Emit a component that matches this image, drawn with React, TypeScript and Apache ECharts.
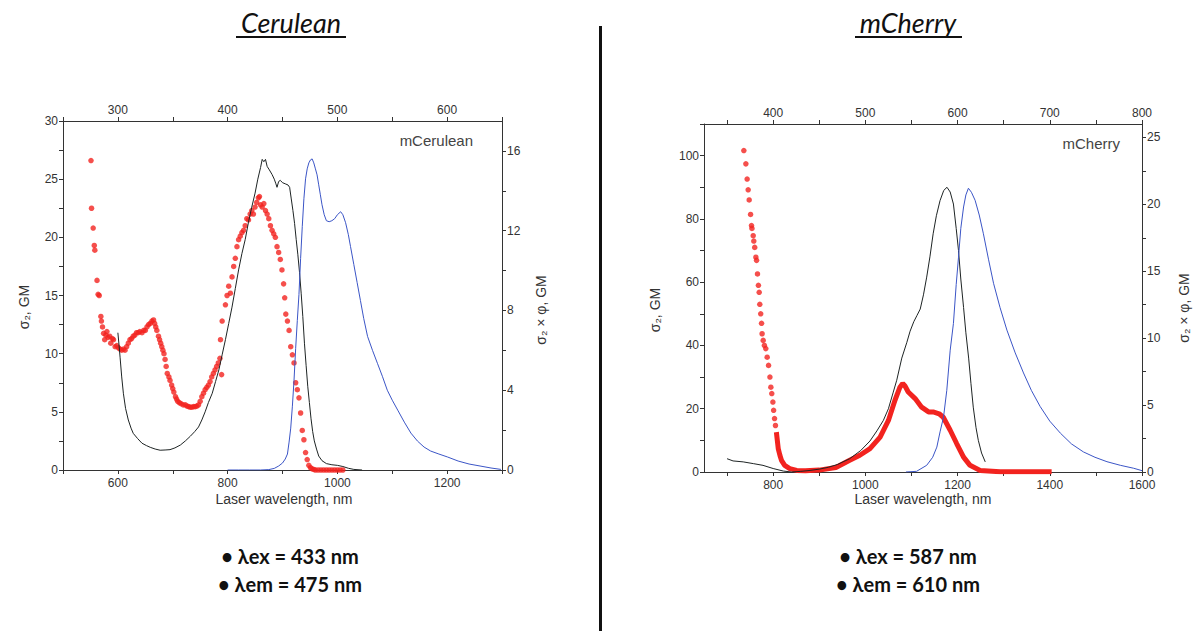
import React, { useEffect, useRef } from 'react';
import * as echarts from 'echarts';

// ---------- DATA ----------
// Cerulean panel (bottom axis: laser wavelength, nm; top axis: wavelength / 2)
const cerBottomTicks = [500, 600, 700, 800, 900, 1000, 1100, 1200, 1300];
const cerBottomLabels = [600, 800, 1000, 1200];
const cerTopTicks = [250, 300, 350, 400, 450, 500, 550, 600, 650];
const cerTopLabels = [300, 400, 500, 600];
const cerLeftTicks = [0, 2.5, 5, 7.5, 10, 12.5, 15, 17.5, 20, 22.5, 25, 27.5, 30];
const cerLeftLabels = [0, 5, 10, 15, 20, 25, 30];
const cerRightTicks = [0, 2, 4, 6, 8, 10, 12, 14, 16];
const cerRightLabels = [0, 4, 8, 12, 16];

// two-photon cross section (red dots), sigma2 GM
const cerRed: [number, number][] = [
  [551, 26.6], [552, 22.5], [555, 20.8], [557, 19.3], [558, 18.9], [562, 16.3], [564, 15.1], [566, 15.0],
  [569, 13.2], [570, 12.8], [572, 12.3], [574, 11.75], [576, 11.2], [578, 11.6], [580, 11.9], [582, 11.4],
  [585, 11.5], [587, 10.9], [590, 11.3], [592, 11.2], [595, 10.6], [598, 10.7], [601, 10.5], [604, 10.4],
  [607, 10.3], [610, 10.4], [613, 10.3], [616, 10.6], [619, 10.9], [622, 11.2], [625, 11.3], [628, 11.5],
  [631, 11.6], [634, 11.8], [637, 11.8], [640, 11.9], [644, 11.8], [647, 12.0], [650, 12.0], [653, 12.3],
  [656, 12.5], [659, 12.6], [662, 12.8], [665, 12.9], [667, 12.6], [669, 12.3], [671, 12.0], [674, 11.5],
  [676, 11.2], [678, 10.9], [680, 10.6], [682, 10.3], [684, 10.0], [686, 9.5], [688, 8.9], [690, 8.3],
  [693, 8.0], [695, 7.7], [698, 7.3], [700, 7.0], [702, 6.7], [705, 6.3], [707, 6.1], [709, 5.9],
  [712, 5.8], [715, 5.7], [719, 5.6], [723, 5.6], [726, 5.5], [729, 5.45], [732, 5.4], [735, 5.4],
  [738, 5.45], [741, 5.45], [744, 5.5], [747, 5.6], [750, 5.9], [753, 6.3], [756, 6.6], [759, 6.9],
  [762, 7.1], [765, 7.3], [768, 7.6], [771, 8.0], [774, 8.3], [777, 8.6], [780, 8.9], [783, 9.2],
  [786, 9.6], [787, 11.2], [789, 8.2], [790, 12.8], [796, 14.2], [799, 15.0], [802, 15.8], [805, 15.2],
  [808, 16.6], [811, 17.5], [814, 18.2], [817, 19.2], [820, 19.8], [823, 20.1], [826, 20.4], [829, 20.6],
  [832, 21.0], [835, 21.6], [838, 21.5], [841, 22.0], [844, 22.3], [847, 22.0], [850, 22.6], [853, 23.0],
  [856, 23.4], [858, 23.5], [860, 22.8], [863, 22.6], [866, 22.9], [869, 22.3], [872, 22.0], [875, 21.6],
  [878, 21.0], [881, 20.6], [884, 20.3], [887, 20.0], [890, 19.2], [893, 18.7], [896, 18.1], [899, 17.2],
  [902, 16.0], [904, 14.8], [906, 13.4], [909, 12.8], [912, 12.0], [915, 10.6], [918, 9.9], [921, 9.2],
  [924, 7.5], [927, 6.9], [930, 6.2], [933, 4.9], [936, 3.4], [939, 2.6], [942, 1.5], [945, 0.9],
  [948, 0.4], [951, 0.2], [954, 0.1], [957, 0.05], [960, 0], [965, 0], [970, 0], [975, 0], [980, 0],
  [985, 0], [990, 0], [995, 0], [1000, 0], [1005, 0], [1010, 0],
];

// one-photon absorption (black line), plotted on the sigma2 scale
const cerBlack: [number, number][] = [
  [600, 11.8], [602, 10.8], [604, 9.7], [607, 8.0], [610, 6.6], [614, 5.3], [619, 4.3], [624, 3.6],
  [628, 3.15], [636, 2.7], [644, 2.3], [652, 2.1], [659, 1.95], [668, 1.8], [677, 1.7], [686, 1.72],
  [695, 1.75], [704, 1.9], [714, 2.15], [723, 2.5], [732, 2.9], [740, 3.3], [747, 3.7], [753, 4.3],
  [759, 5.0], [765, 5.8], [772, 6.6], [778, 7.6], [784, 8.6], [790, 9.9], [796, 11.2], [802, 12.6],
  [808, 14.0], [814, 15.6], [820, 17.2], [826, 18.6], [832, 19.8], [838, 21.3], [844, 22.6], [850, 23.8],
  [855, 25.0], [860, 26.0], [863, 26.7], [866, 26.5], [869, 26.7], [872, 26.1], [876, 25.8], [881, 25.4],
  [885, 25.0], [888, 24.6], [890, 24.3], [893, 24.8], [896, 24.9], [900, 24.7], [905, 24.6], [910, 24.5],
  [913, 24.3], [916, 23.3], [919, 22.3], [922, 21.2], [925, 19.8], [928, 18.5], [931, 17.0], [934, 15.2],
  [937, 13.2], [940, 10.9], [943, 9.0], [946, 7.2], [949, 5.8], [952, 4.4], [955, 3.3], [958, 2.5],
  [962, 1.8], [966, 1.2], [972, 0.8], [980, 0.55], [990, 0.45], [1000, 0.4], [1010, 0.3], [1020, 0.15],
  [1030, 0.05], [1045, 0],
];

// emission (blue line), right axis
const cerBlue: [number, number][] = [
  [800, 0], [820, 0], [840, 0], [860, 0], [875, 0.02], [885, 0.08], [893, 0.2], [900, 0.35],
  [905, 0.55], [909, 0.8], [912, 1.4], [915, 2.1], [918, 3.2], [921, 4.5], [924, 6.1], [927, 7.5],
  [930, 8.8], [933, 10.6], [936, 12.2], [939, 13.6], [942, 14.6], [945, 15.1], [948, 15.4], [951, 15.55],
  [954, 15.6], [957, 15.4], [960, 15.1], [963, 14.8], [966, 14.3], [969, 13.8], [972, 13.3], [976, 12.8],
  [980, 12.5], [985, 12.45], [990, 12.5], [995, 12.6], [1000, 12.8], [1006, 12.95], [1010, 12.8], [1015, 12.4],
  [1020, 11.8], [1024, 11.2], [1030, 10.3], [1036, 9.4], [1042, 8.5], [1048, 7.6], [1055, 6.7], [1064, 6.0],
  [1073, 5.35], [1082, 4.7], [1091, 4.0], [1100, 3.5], [1110, 3.0], [1122, 2.4], [1134, 1.85], [1146, 1.45],
  [1158, 1.15], [1170, 0.95], [1185, 0.8], [1201, 0.65], [1220, 0.45], [1240, 0.3], [1260, 0.2], [1280, 0.1],
  [1298, 0.03],
];

// mCherry panel
const cheBottomTicks = [700, 800, 900, 1000, 1100, 1200, 1300, 1400, 1500, 1600];
const cheBottomLabels = [800, 1000, 1200, 1400, 1600];
const cheTopTicks = [350, 400, 450, 500, 550, 600, 650, 700, 750, 800];
const cheTopLabels = [400, 500, 600, 700, 800];
const cheLeftTicks = [0, 10, 20, 30, 40, 50, 60, 70, 80, 90, 100, 110];
const cheLeftLabels = [0, 20, 40, 60, 80, 100];
const cheRightTicks = [0, 2.5, 5, 7.5, 10, 12.5, 15, 17.5, 20, 22.5, 25];
const cheRightLabels = [0, 5, 10, 15, 20, 25];

const cheRedDots: [number, number][] = [
  [736.4, 101.6], [740.8, 97.4], [743.6, 92.6], [745.8, 89.2], [748, 86], [751, 81.4], [753, 77.9],
  [754, 77], [756.7, 74.7], [758, 73], [760, 71], [762.5, 67.9], [764, 66.9], [766, 62.6], [768, 59],
  [769.7, 56.8], [771, 53], [773, 50], [774.8, 47], [776, 43.7], [778.4, 41.6], [781, 40], [784, 39],
  [787, 36.3], [790, 33.7], [793, 30], [795, 26.8], [797, 24.8], [799.4, 22.1], [801, 19.5], [803, 16.9],
  [805, 14.7],
];
const cheRedBand: [number, number][] = [
  [807, 12.6], [809, 10], [811, 7.4], [814.6, 5.3], [818, 3.7], [825, 2.1], [836, 1.07], [851, 0.5],
  [870, 0.4], [900, 0.6], [936, 1.4], [966, 3.7], [988, 5.3], [1010, 7.4], [1032, 11.05], [1050, 16.3],
  [1064, 22.6], [1075, 26.8], [1081, 28], [1086, 27.2], [1093, 25.3], [1108, 23.2], [1122, 20.5],
  [1137, 19.0], [1147, 19.0], [1160, 18.4], [1169, 17.3], [1184, 13.2], [1198, 9.0], [1213, 4.7],
  [1227, 2.1], [1249, 0.5], [1292, 0.1], [1404, 0.1],
];
const cheBlack: [number, number][] = [
  [700, 4.2], [713, 3.5], [735, 3.2], [757, 2.65], [778, 2.1], [800, 1.1], [822, 0.3], [840, 0], [860, 0.2],
  [880, 0.5], [900, 0.9], [920, 1.5], [940, 2.4], [966, 4.2], [990, 6.8], [1010, 9.8], [1025, 13.0],
  [1039, 16.3], [1050, 20.0], [1060, 25.0], [1068, 29.0], [1079, 36.0], [1090, 41.0], [1097, 44.5],
  [1105, 47.5], [1112, 49.5], [1119, 51.5], [1126, 56], [1133, 61.6], [1140, 68], [1147, 75.3], [1154, 81],
  [1162, 85.8], [1170, 89], [1177, 90], [1184, 88.5], [1191, 84.7], [1197, 77], [1202, 70], [1207, 61],
  [1213, 52], [1218, 44], [1224, 36], [1229, 28], [1234, 20.5], [1240, 14], [1245, 10], [1252, 6.0],
  [1260, 3.2],
];
const cheBlue: [number, number][] = [
  [1088, 0], [1111, 0.05], [1133, 0.5], [1146, 1.1], [1155, 1.86], [1162, 3.0], [1169.5, 4.1], [1176.6, 6.1],
  [1184, 9.1], [1191, 11.1], [1197, 14], [1202, 16.05], [1207, 18.2], [1213, 19.8], [1218, 20.7], [1223.5, 21.2],
  [1230, 20.9], [1238, 20.3], [1247, 19.2], [1256, 17.8], [1267, 15.9], [1278, 14.1], [1292, 12.3], [1307, 10.6],
  [1325, 8.9], [1343, 7.4], [1360, 6.1], [1379, 4.9], [1400, 3.8], [1423, 2.9], [1447, 2.1], [1473, 1.5],
  [1498, 1.1], [1524, 0.77], [1553, 0.5], [1582, 0.28], [1600, 0.1],
];

const titles = ['Cerulean', 'mCherry'];
const proteinLabels = ['mCerulean', 'mCherry'];
const notesLeft = ['• λex = 433 nm', '• λem = 475 nm'];
const notesRight = ['• λex = 587 nm', '• λem = 610 nm'];

// ---------- STYLE ----------
const AX = '#333';
const FONT = "'Liberation Sans', Arial, sans-serif";
const RED = '#f2231f';
const BLACK = '#1e2424';
const BLUE = '#3b55c6';

function axis(gridIndex: number, position: string, min: number, max: number, ticks: number[], labels: number[], margin = 5) {
  return {
    type: 'value',
    gridIndex,
    position,
    min,
    max,
    axisLine: { show: true, onZero: false, lineStyle: { color: AX, width: 1 } },
    axisTick: { show: true, inside: false, length: 4, customValues: ticks, lineStyle: { color: AX, width: 1 } },
    axisLabel: {
      show: true,
      customValues: labels,
      color: '#333',
      fontSize: 12,
      fontFamily: FONT,
      margin,
      formatter: (v: number) => String(v),
    },
    splitLine: { show: false },
  };
}

function vText(x: number, y: number, text: string) {
  return {
    type: 'text',
    x,
    y,
    rotation: Math.PI / 2,
    style: { text, fontSize: 14, fontFamily: FONT, fill: '#333', textAlign: 'center', textVerticalAlign: 'middle' },
  };
}

function hText(x: number, y: number, text: string, extra: any = {}) {
  return {
    type: 'text',
    x,
    y,
    style: { text, fontSize: 14, fontFamily: FONT, fill: '#333', textAlign: 'center', textVerticalAlign: 'middle', ...extra },
  };
}

export default function App() {
  const ref = useRef<HTMLDivElement>(null);
  useEffect(() => {
    if (!ref.current) return;
    const chart = echarts.init(ref.current, null, { renderer: 'svg' });
    const titleFont = "Lato, 'Open Sans', sans-serif";
    const noteStyle = { fontSize: 20, fontWeight: 'bold', fontFamily: titleFont, fill: '#111' };
    chart.setOption({
      animation: false,
      backgroundColor: '#ffffff',
      grid: [
        { left: 63, top: 121, width: 439, height: 349 },
        { left: 704, top: 124, width: 438, height: 348 },
      ],
      xAxis: [
        axis(0, 'bottom', 500, 1300, cerBottomTicks, cerBottomLabels, 7),
        axis(0, 'top', 250, 650, cerTopTicks, cerTopLabels),
        axis(1, 'bottom', 650, 1600, cheBottomTicks, cheBottomLabels, 7),
        axis(1, 'top', 325, 800, cheTopTicks, cheTopLabels),
      ],
      yAxis: [
        axis(0, 'left', 0, 30, cerLeftTicks, cerLeftLabels),
        axis(0, 'right', 0, 17.5, cerRightTicks, cerRightLabels),
        axis(1, 'left', 0, 110, cheLeftTicks, cheLeftLabels),
        axis(1, 'right', 0, 26, cheRightTicks, cheRightLabels),
      ],
      series: [
        { type: 'scatter', xAxisIndex: 0, yAxisIndex: 0, data: cerRed, symbolSize: 5.5, itemStyle: { color: RED }, z: 2 },
        { type: 'line', xAxisIndex: 0, yAxisIndex: 0, data: cerBlack, showSymbol: false, lineStyle: { color: BLACK, width: 1 }, z: 3 },
        { type: 'line', xAxisIndex: 0, yAxisIndex: 1, data: cerBlue, showSymbol: false, lineStyle: { color: BLUE, width: 1 }, z: 3 },
        { type: 'scatter', xAxisIndex: 2, yAxisIndex: 2, data: cheRedDots, symbolSize: 5.5, itemStyle: { color: RED }, z: 2 },
        { type: 'line', xAxisIndex: 2, yAxisIndex: 2, data: cheRedBand, showSymbol: false, lineStyle: { color: RED, width: 5 }, z: 2 },
        { type: 'line', xAxisIndex: 2, yAxisIndex: 2, data: cheBlack, showSymbol: false, lineStyle: { color: BLACK, width: 1 }, z: 3 },
        { type: 'line', xAxisIndex: 2, yAxisIndex: 3, data: cheBlue, showSymbol: false, lineStyle: { color: BLUE, width: 1 }, z: 3 },
      ],
      graphic: [
        // titles
        { type: 'text', x: 291, y: 22, style: { text: titles[0], fontSize: 27, fontStyle: 'italic', fontFamily: titleFont, fill: '#111', textAlign: 'center', textVerticalAlign: 'middle' } },
        { type: 'rect', shape: { x: 236, y: 36, width: 110, height: 2 }, style: { fill: '#111' } },
        { type: 'text', x: 908, y: 22, style: { text: titles[1], fontSize: 27, fontStyle: 'italic', fontFamily: titleFont, fill: '#111', textAlign: 'center', textVerticalAlign: 'middle' } },
        { type: 'rect', shape: { x: 855, y: 36, width: 107, height: 2 }, style: { fill: '#111' } },
        // divider
        { type: 'rect', shape: { x: 599, y: 26, width: 3, height: 605 }, style: { fill: '#111' } },
        // axis names
        vText(24, 307, 'σ₂, GM'),
        vText(541, 310, 'σ₂ × φ, GM'),
        vText(655, 310, 'σ₂, GM'),
        vText(1184, 308, 'σ₂ × φ, GM'),
        hText(284, 499, 'Laser wavelength, nm'),
        hText(923, 499, 'Laser wavelength, nm'),
        // protein labels
        hText(473, 140, proteinLabels[0], { textAlign: 'right', fontSize: 15, fill: '#444' }),
        hText(1120, 143, proteinLabels[1], { textAlign: 'right', fontSize: 15, fill: '#444' }),
        // notes
        { type: 'text', x: 290, y: 556, style: { text: notesLeft[0], ...noteStyle, textAlign: 'center', textVerticalAlign: 'middle' } },
        { type: 'text', x: 290, y: 584, style: { text: notesLeft[1], ...noteStyle, textAlign: 'center', textVerticalAlign: 'middle' } },
        { type: 'text', x: 908, y: 556, style: { text: notesRight[0], ...noteStyle, textAlign: 'center', textVerticalAlign: 'middle' } },
        { type: 'text', x: 908, y: 584, style: { text: notesRight[1], ...noteStyle, textAlign: 'center', textVerticalAlign: 'middle' } },
      ],
    });
    return () => chart.dispose();
  }, []);
  return <div ref={ref} style={{ position: 'fixed', left: 0, top: 0, width: 1195, height: 631 }} />;
}
